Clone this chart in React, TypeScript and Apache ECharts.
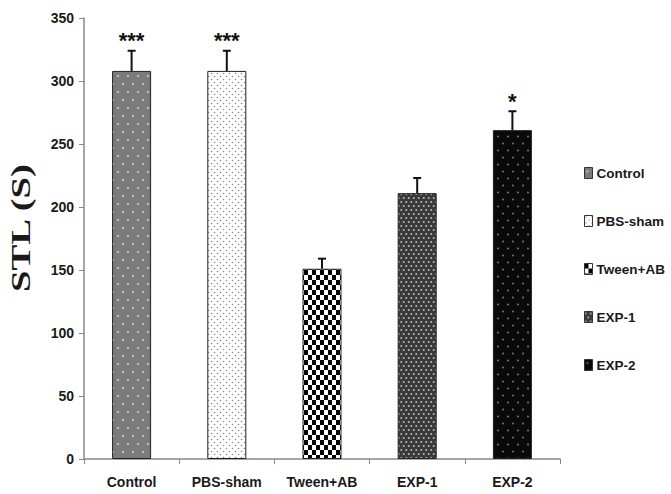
import React, { useEffect, useRef } from "react";
import * as echarts from "echarts";

const categories = ["Control", "PBS-sham", "Tween+AB", "EXP-1", "EXP-2"];
const meanValues = [308, 308, 151, 211, 261];
const errorValues = [16, 16, 8, 12, 15];
const significance = ["***", "***", "", "", "*"];
const yTicks = { min: 0, max: 350, interval: 50 };

const SANS = "'Liberation Sans', Arial, sans-serif";

type Dot = [number, number];

function dotPattern(w: number, h: number, bg: string, fg: string, r: number, dots: Dot[]) {
  const c = document.createElement("canvas");
  c.width = w;
  c.height = h;
  const ctx = c.getContext("2d")!;
  ctx.fillStyle = bg;
  ctx.fillRect(0, 0, w, h);
  ctx.fillStyle = fg;
  dots.forEach(([x, y]) => {
    ctx.beginPath();
    ctx.arc(x, y, r, 0, Math.PI * 2);
    ctx.fill();
  });
  return { image: c, repeat: "repeat", imageWidth: w, imageHeight: h } as any;
}

function checkerPattern(cw: number, ch: number) {
  const c = document.createElement("canvas");
  c.width = cw * 2;
  c.height = ch * 2;
  const ctx = c.getContext("2d")!;
  ctx.fillStyle = "#ffffff";
  ctx.fillRect(0, 0, cw * 2, ch * 2);
  ctx.fillStyle = "#000000";
  ctx.fillRect(0, 0, cw, ch);
  ctx.fillRect(cw, ch, cw, ch);
  return { image: c, repeat: "repeat", imageWidth: cw * 2, imageHeight: ch * 2 } as any;
}

export default function App() {
  const ref = useRef<HTMLDivElement>(null);
  useEffect(() => {
    if (!ref.current) return;
    const chart = echarts.init(ref.current, undefined, { renderer: "svg" });

    const patterns = [
      dotPattern(10, 16, "#7b7b7b", "#e2e2e2", 0.9, [[3, 4], [8, 12]]),
      dotPattern(6, 6, "#ffffff", "#8a8a8a", 0.8, [[1.5, 1.5], [4.5, 4.5]]),
      checkerPattern(4, 5),
      dotPattern(5, 8, "#3a3a3a", "#b8b8b8", 1, [[1.25, 2], [3.75, 6]]),
      dotPattern(10, 14, "#0a0a0a", "#7a7a7a", 1, [[3, 3.5], [8, 10.5]]),
    ];

    const barSeries = categories.map((name, i) => ({
      name,
      type: "bar",
      barWidth: 39,
      barGap: "-100%",
      data: categories.map((_, j) => (j === i ? meanValues[j] : null)),
      itemStyle: { color: patterns[i], borderColor: "#222", borderWidth: 1 },
      emphasis: { disabled: true },
    }));

    const errSeries = {
      type: "custom",
      name: "err",
      data: categories.map((_, i) => [i, meanValues[i], errorValues[i]]),
      z: 10,
      renderItem: (params: any, api: any) => {
        const idx = api.value(0);
        const v = api.value(1);
        const e = api.value(2);
        const p0 = api.coord([idx, v]);
        const p1 = api.coord([idx, v + e]);
        const children: any[] = [
          { type: "line", shape: { x1: p0[0], y1: p0[1], x2: p1[0], y2: p1[1] }, style: { stroke: "#111", lineWidth: 2 } },
          { type: "line", shape: { x1: p1[0] - 4, y1: p1[1], x2: p1[0] + 4, y2: p1[1] }, style: { stroke: "#111", lineWidth: 2 } },
        ];
        const sig = significance[params.dataIndex];
        if (sig) {
          children.push({
            type: "text",
            style: {
              text: sig,
              x: p1[0],
              y: p1[1] - 21,
              align: "center",
              verticalAlign: "top",
              font: "bold 22px 'Liberation Sans', Arial, sans-serif",
              fill: "#111",
            },
          });
        }
        return { type: "group", children };
      },
    };

    chart.setOption({
      animation: false,
      grid: { left: 84, right: 111, top: 18, bottom: 35 },
      xAxis: {
        type: "category",
        data: categories,
        axisLine: { lineStyle: { color: "#888", width: 1.5 } },
        axisTick: { show: true, length: 5, lineStyle: { color: "#888" } },
        axisLabel: { interval: 0, color: "#1a1a1a", fontFamily: SANS, fontWeight: "bold", fontSize: 14, margin: 16 },
      },
      yAxis: {
        type: "value",
        min: yTicks.min,
        max: yTicks.max,
        interval: yTicks.interval,
        splitLine: { show: false },
        axisLine: { show: true, lineStyle: { color: "#888", width: 1.5 } },
        axisTick: { show: true, length: 5, lineStyle: { color: "#888" } },
        axisLabel: { color: "#1a1a1a", fontFamily: SANS, fontWeight: "bold", fontSize: 14, margin: 10 },
      },
      legend: {
        orient: "vertical",
        left: 584,
        top: 166,
        padding: 0,
        itemGap: 34,
        itemWidth: 8,
        itemHeight: 11,
        icon: "rect",
        data: categories,
        selectedMode: false,
        itemStyle: { borderColor: "#333", borderWidth: 1 },
        textStyle: { color: "#1a1a1a", fontFamily: SANS, fontWeight: "bold", fontSize: 13.5, padding: [0, 0, 0, -1] },
      },
      graphic: [
        {
          type: "text",
          x: 20,
          y: 228,
          rotation: Math.PI / 2,
          scaleX: 1.38,
          style: {
            text: "STL (S)",
            font: "bold 28px 'Liberation Serif', 'Times New Roman', serif",
            fill: "#1a1a1a",
            align: "center",
            verticalAlign: "middle",
          },
        },
      ],
      series: [...barSeries, errSeries],
    });
    return () => chart.dispose();
  }, []);
  return <div ref={ref} style={{ width: 671, height: 494, position: "absolute", left: 0, top: 0 }} />;
}
